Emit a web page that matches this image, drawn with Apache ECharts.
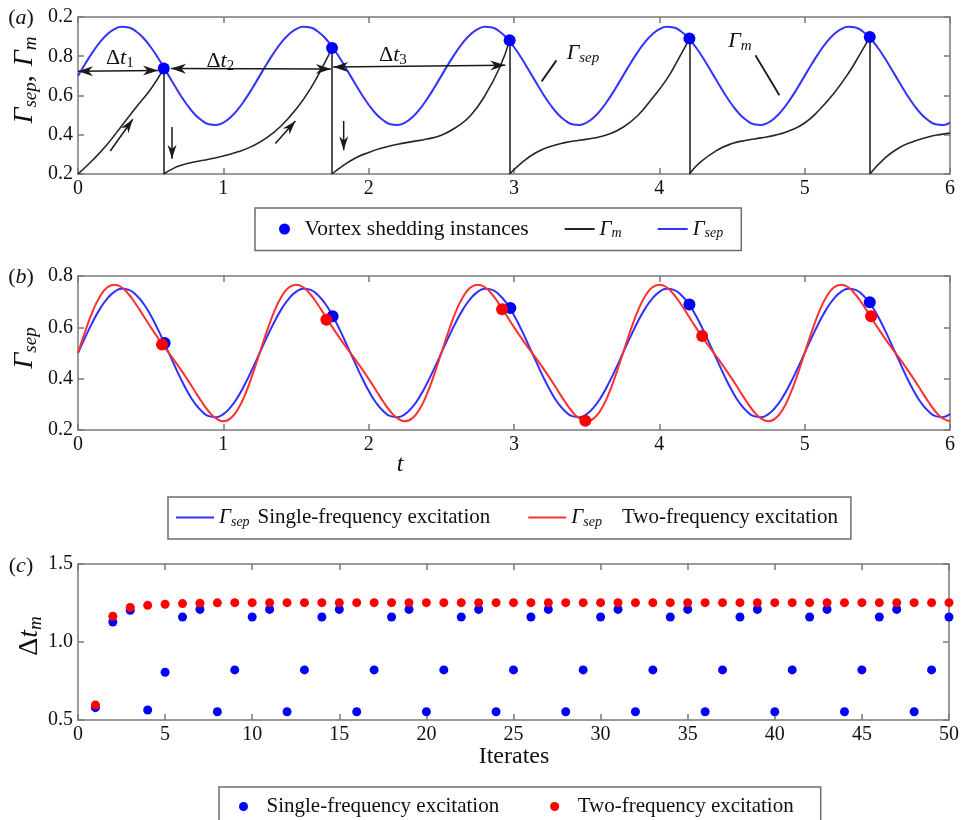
<!DOCTYPE html>
<html>
<head>
<meta charset="utf-8">
<script src="https://cdn.jsdelivr.net/npm/echarts@6/dist/echarts.min.js"></script>
<style>
  html, body { margin: 0; padding: 0; background: #ffffff; }
  #chart { width: 962px; height: 820px; }
</style>
</head>
<body>
<div id="chart"></div>
<script>
// ---------- data ----------
// time samples for the separation-circulation curves (t = 0 ... 6, step 0.05)
const tSamples = [];
for (let i = 0; i <= 120; i++) tSamples.push(+(i * 0.05).toFixed(2));

// panel (a): Γsep, single-frequency excitation
const sepA = [
  0.700,0.762,0.820,0.871,0.911,0.938,0.950,0.946,0.926,0.893,0.847,0.792,0.731,0.669,0.608,0.553,0.507,0.474,0.454,0.450,0.462,0.489,0.529,0.580,0.638,
  0.700,0.762,0.820,0.871,0.911,0.938,0.950,0.946,0.926,0.893,0.847,0.792,0.731,0.669,0.608,0.553,0.507,0.474,0.454,0.450,0.462,0.489,0.529,0.580,0.638,
  0.700,0.762,0.820,0.871,0.911,0.938,0.950,0.946,0.926,0.893,0.847,0.792,0.731,0.669,0.608,0.553,0.507,0.474,0.454,0.450,0.462,0.489,0.529,0.580,0.638,
  0.700,0.762,0.820,0.871,0.911,0.938,0.950,0.946,0.926,0.893,0.847,0.792,0.731,0.669,0.608,0.553,0.507,0.474,0.454,0.450,0.462,0.489,0.529,0.580,0.638,
  0.700,0.762,0.820,0.871,0.911,0.938,0.950,0.946,0.926,0.893,0.847,0.792,0.731,0.669,0.608,0.553,0.507,0.474,0.454,0.450,0.462
];

// panel (a): Γm, one rising branch per shedding cycle  [t, Γm]
const gammaM1 = [[0,0.200],[0.1,0.270],[0.2,0.350],[0.3,0.445],[0.4,0.540],[0.5,0.632],[0.59,0.737]];
const gammaM2 = [[0.59,0.200],[0.65,0.226],[0.7,0.242],[0.8,0.261],[0.9,0.275],[1.0,0.292],[1.1,0.313],[1.2,0.342],[1.3,0.385],[1.4,0.447],[1.5,0.530],[1.6,0.635],[1.7,0.770],[1.748,0.842]];
const gammaM3 = [[1.748,0.200],[1.8,0.230],[1.9,0.278],[2.0,0.310],[2.1,0.334],[2.2,0.352],[2.3,0.365],[2.4,0.378],[2.5,0.398],[2.6,0.437],[2.7,0.497],[2.8,0.600],[2.9,0.740],[2.97,0.881]];
const gammaM4 = [[2.97,0.200],[3.05,0.256],[3.15,0.308],[3.25,0.340],[3.35,0.360],[3.45,0.372],[3.55,0.383],[3.65,0.402],[3.75,0.438],[3.85,0.497],[3.95,0.585],[4.05,0.682],[4.13,0.784],[4.207,0.890]];
const gammaM5 = [[4.207,0.200],[4.28,0.259],[4.4,0.322],[4.5,0.355],[4.6,0.372],[4.7,0.384],[4.8,0.398],[4.9,0.422],[5.0,0.460],[5.1,0.526],[5.2,0.610],[5.3,0.712],[5.38,0.810],[5.448,0.898]];
const gammaM6 = [[5.448,0.200],[5.55,0.280],[5.65,0.334],[5.75,0.366],[5.85,0.389],[5.95,0.403],[6.0,0.409]];

// panel (a): vortex shedding instances
const shedTimesA = [0.59, 1.748, 2.97, 4.207, 5.448];
const shedValsA  = [0.737, 0.842, 0.881, 0.890, 0.898];

// panel (b): Γsep for single- and two-frequency excitation
const sepSingle = [
  0.500,0.562,0.620,0.671,0.711,0.738,0.750,0.746,0.726,0.693,0.647,0.592,0.531,0.469,0.408,0.353,0.307,0.274,0.254,0.250,0.262,0.289,0.329,0.380,0.438,
  0.500,0.562,0.620,0.671,0.711,0.738,0.750,0.746,0.726,0.693,0.647,0.592,0.531,0.469,0.408,0.353,0.307,0.274,0.254,0.250,0.262,0.289,0.329,0.380,0.438,
  0.500,0.562,0.620,0.671,0.711,0.738,0.750,0.746,0.726,0.693,0.647,0.592,0.531,0.469,0.408,0.353,0.307,0.274,0.254,0.250,0.262,0.289,0.329,0.380,0.438,
  0.500,0.562,0.620,0.671,0.711,0.738,0.750,0.746,0.726,0.693,0.647,0.592,0.531,0.469,0.408,0.353,0.307,0.274,0.254,0.250,0.262,0.289,0.329,0.380,0.438,
  0.500,0.562,0.620,0.671,0.711,0.738,0.750,0.746,0.726,0.693,0.647,0.592,0.531,0.469,0.408,0.353,0.307,0.274,0.254,0.250,0.262
];
const sepTwo = [
  0.500,0.585,0.661,0.719,0.755,0.766,0.756,0.728,0.689,0.645,0.601,0.559,0.519,0.481,0.441,0.399,0.355,0.311,0.272,0.245,0.234,0.246,0.281,0.339,0.415,
  0.500,0.585,0.661,0.719,0.755,0.766,0.756,0.728,0.689,0.645,0.601,0.559,0.519,0.481,0.441,0.399,0.355,0.311,0.272,0.245,0.234,0.246,0.281,0.339,0.415,
  0.500,0.585,0.661,0.719,0.755,0.766,0.756,0.728,0.689,0.645,0.601,0.559,0.519,0.481,0.441,0.399,0.355,0.311,0.272,0.245,0.234,0.246,0.281,0.339,0.415,
  0.500,0.585,0.661,0.719,0.755,0.766,0.756,0.728,0.689,0.645,0.601,0.559,0.519,0.481,0.441,0.399,0.355,0.311,0.272,0.245,0.234,0.246,0.281,0.339,0.415,
  0.500,0.585,0.661,0.719,0.755,0.766,0.756,0.728,0.689,0.645,0.601,0.559,0.519,0.481,0.441,0.399,0.355,0.311,0.272,0.245,0.234
];
const shedTimesSingle = [0.596, 1.752, 2.975, 4.207, 5.448];
const shedValsSingle  = [0.539, 0.643, 0.675, 0.689, 0.698];
const shedTimesTwo = [0.578, 1.709, 2.918, 3.491, 4.295, 5.457];
const shedValsTwo  = [0.533, 0.630, 0.670, 0.236, 0.566, 0.643];

// panel (c): shedding interval Δtm per iterate
const iterates = [];
for (let k = 1; k <= 50; k++) iterates.push(k);
const dtSingle = [
  0.579,1.128,1.203,0.564,0.806,1.160,1.209,0.553,0.821,1.160,
  1.209,0.553,0.821,1.160,1.209,0.553,0.821,1.160,1.209,0.553,
  0.821,1.160,1.209,0.553,0.821,1.160,1.209,0.553,0.821,1.160,
  1.209,0.553,0.821,1.160,1.209,0.553,0.821,1.160,1.209,0.553,
  0.821,1.160,1.209,0.553,0.821,1.160,1.209,0.553,0.821,1.160
];
const dtTwo = [
  0.596,1.165,1.221,1.235,1.242,1.246,1.249,1.251,1.252,1.252,
  1.252,1.252,1.252,1.252,1.252,1.252,1.252,1.252,1.252,1.252,
  1.252,1.252,1.252,1.252,1.252,1.252,1.252,1.252,1.252,1.252,
  1.252,1.252,1.252,1.252,1.252,1.252,1.252,1.252,1.252,1.252,
  1.252,1.252,1.252,1.252,1.252,1.252,1.252,1.252,1.252,1.252
];

// tick labels of the panel (a) ordinate, bottom to top
const yTickLabelsA = ['0.2', '0.4', '0.6', '0.8', '0.2'];

// ---------- helpers ----------
const SERIF = 'Liberation Serif';
const AXIS_GREY = '#7a7a7a';
const pairs = (xs, ys) => xs.map((x, i) => [x, ys[i]]);

function bottomAxis(grid, min, max, interval) {
  return {
    type: 'value', gridIndex: grid, position: 'bottom', min, max, interval,
    axisLine: { show: true, onZero: false, lineStyle: { color: AXIS_GREY, width: 1.5 } },
    axisTick: { show: true, inside: true, length: 6, lineStyle: { color: AXIS_GREY, width: 1.5 } },
    axisLabel: { show: true, margin: 5, color: '#111', fontFamily: SERIF, fontSize: 20 },
    splitLine: { show: false }
  };
}
function topAxis(grid, min, max, interval) {
  return {
    type: 'value', gridIndex: grid, position: 'top', min, max, interval,
    axisLine: { show: true, onZero: false, lineStyle: { color: AXIS_GREY, width: 1.5 } },
    axisTick: { show: true, inside: true, length: 6, lineStyle: { color: AXIS_GREY, width: 1.5 } },
    axisLabel: { show: false }, splitLine: { show: false }
  };
}
function leftAxis(grid, min, max, interval, fmt) {
  return {
    type: 'value', gridIndex: grid, position: 'left', min, max, interval,
    axisLine: { show: true, onZero: false, lineStyle: { color: AXIS_GREY, width: 1.5 } },
    axisTick: { show: true, inside: true, length: 6, lineStyle: { color: AXIS_GREY, width: 1.5 } },
    axisLabel: { show: true, margin: 5, color: '#111', fontFamily: SERIF, fontSize: 20, formatter: fmt },
    splitLine: { show: false }
  };
}
function rightAxis(grid, min, max, interval) {
  return {
    type: 'value', gridIndex: grid, position: 'right', min, max, interval,
    axisLine: { show: true, onZero: false, lineStyle: { color: AXIS_GREY, width: 1.5 } },
    axisTick: { show: true, inside: true, length: 6, lineStyle: { color: AXIS_GREY, width: 1.5 } },
    axisLabel: { show: false }, splitLine: { show: false }
  };
}

const legendRich = {
  g:  { fontFamily: SERIF, fontStyle: 'italic', fontSize: 21, color: '#111' },
  s:  { fontFamily: SERIF, fontStyle: 'italic', fontSize: 14, color: '#111', padding: [9, 0, 0, 0] },
  v:  { fontFamily: SERIF, fontSize: 21.5, color: '#111' },
  x:  { fontFamily: SERIF, fontSize: 21, color: '#111', padding: [0, 0, 0, 8] },
  x2: { fontFamily: SERIF, fontSize: 21, color: '#111', padding: [0, 0, 0, 20] },
  p:  { fontFamily: SERIF, fontSize: 21, color: '#111' }
};
const legendBase = {
  orient: 'horizontal', selectedMode: false,
  borderColor: '#6e6e6e', borderWidth: 1.5, backgroundColor: '#ffffff',
  textStyle: { fontFamily: SERIF, fontSize: 21, color: '#111', rich: legendRich }
};
const lineOnly = { opacity: 0, borderWidth: 0 };

const blackSeg = (data, extra) => Object.assign({
  name: 'Γm', type: 'line', xAxisIndex: 0, yAxisIndex: 0, data,
  smooth: 0.5, symbol: 'none',
  lineStyle: { color: '#262626', width: 1.6 }, itemStyle: { color: '#262626' }, z: 2
}, extra || {});

// ---------- chart ----------
const chart = echarts.init(document.getElementById('chart'), null, { renderer: 'canvas' });

const option = {
  animation: false,
  backgroundColor: '#ffffff',
  grid: [
    { left: 78, top: 17, width: 872, height: 157 },
    { left: 78, top: 276, width: 872, height: 154 },
    { left: 78, top: 564, width: 872, height: 156 }
  ],
  xAxis: [
    bottomAxis(0, 0, 6, 1), topAxis(0, 0, 6, 1),
    bottomAxis(1, 0, 6, 1), topAxis(1, 0, 6, 1),
    bottomAxis(2, 0, 50, 5), topAxis(2, 0, 50, 5)
  ],
  yAxis: [
    leftAxis(0, 0.2, 1.0, 0.2, v => yTickLabelsA[Math.round((v - 0.2) / 0.2)]), rightAxis(0, 0.2, 1.0, 0.2),
    leftAxis(1, 0.2, 0.8, 0.2, v => v.toFixed(1)), rightAxis(1, 0.2, 0.8, 0.2),
    leftAxis(2, 0.5, 1.5, 0.5, v => v.toFixed(1)), rightAxis(2, 0.5, 1.5, 0.5)
  ],
  legend: [
    Object.assign({}, legendBase, {
      left: 255, top: 208, itemWidth: 30, itemHeight: 11, itemGap: 35,
      padding: [10, 18, 10, 24],
      data: [
        { name: 'Vortex shedding instances', icon: 'circle' },
        { name: 'Γm', itemStyle: lineOnly },
        { name: 'Γsep', itemStyle: lineOnly }
      ],
      formatter: n => n === 'Vortex shedding instances' ? '{v|Vortex shedding instances}'
                    : n === 'Γm' ? '{g|Γ}{s|m}' : '{g|Γ}{s|sep}'
    }),
    Object.assign({}, legendBase, {
      left: 168, top: 497, itemWidth: 38, itemHeight: 12, itemGap: 37,
      padding: [10, 13, 10, 7],
      data: [
        { name: 'Γsep Single-frequency excitation', itemStyle: lineOnly },
        { name: 'Γsep Two-frequency excitation', itemStyle: lineOnly }
      ],
      formatter: n => n === 'Γsep Single-frequency excitation'
        ? '{g|Γ}{s|sep}{x|Single-frequency excitation}'
        : '{g|Γ}{s|sep}{x2|Two-frequency excitation}'
    }),
    Object.assign({}, legendBase, {
      left: 219, top: 787, itemWidth: 36, itemHeight: 9, itemGap: 51,
      padding: [9, 27, 40, 20],
      data: [
        { name: 'Single-frequency excitation', icon: 'circle' },
        { name: 'Two-frequency excitation', icon: 'circle' }
      ],
      formatter: n => '{p|' + n + '}'
    })
  ],
  series: [
    // ----- panel (a)
    blackSeg(gammaM1, {
      markLine: {
        silent: true, symbol: ['none', 'none'], label: { show: false },
        lineStyle: { color: '#262626', width: 1.6, type: 'solid' },
        emphasis: { disabled: true },
        data: shedTimesA.map((t, i) => [{ coord: [t, 0.2] }, { coord: [t, shedValsA[i]] }])
      }
    }),
    blackSeg(gammaM2), blackSeg(gammaM3), blackSeg(gammaM4), blackSeg(gammaM5), blackSeg(gammaM6),
    {
      name: 'Γsep', type: 'line', xAxisIndex: 0, yAxisIndex: 0,
      data: pairs(tSamples, sepA), smooth: true, symbol: 'none',
      lineStyle: { color: '#3333ff', width: 2 }, itemStyle: { color: '#3333ff' }, z: 3
    },
    {
      name: 'Vortex shedding instances', type: 'scatter', xAxisIndex: 0, yAxisIndex: 0,
      data: pairs(shedTimesA, shedValsA), symbol: 'circle', symbolSize: 12,
      itemStyle: { color: '#0000ff', opacity: 1 }, z: 5
    },
    // ----- panel (b)
    {
      name: 'Γsep Single-frequency excitation', type: 'line', xAxisIndex: 2, yAxisIndex: 2,
      data: pairs(tSamples, sepSingle), smooth: true, symbol: 'none',
      lineStyle: { color: '#3030ff', width: 2 }, itemStyle: { color: '#6f6fff' }, z: 3
    },
    {
      name: 'Γsep Two-frequency excitation', type: 'line', xAxisIndex: 2, yAxisIndex: 2,
      data: pairs(tSamples, sepTwo), smooth: true, symbol: 'none',
      lineStyle: { color: '#ff3030', width: 2 }, itemStyle: { color: '#ff7070' }, z: 3
    },
    {
      name: 'shedding (single)', type: 'scatter', xAxisIndex: 2, yAxisIndex: 2,
      data: pairs(shedTimesSingle, shedValsSingle), symbolSize: 12,
      itemStyle: { color: '#0000ff', opacity: 1 }, z: 5
    },
    {
      name: 'shedding (two)', type: 'scatter', xAxisIndex: 2, yAxisIndex: 2,
      data: pairs(shedTimesTwo, shedValsTwo), symbolSize: 12,
      itemStyle: { color: '#ff0000', opacity: 1 }, z: 6
    },
    // ----- panel (c)
    {
      name: 'Single-frequency excitation', type: 'scatter', xAxisIndex: 4, yAxisIndex: 4,
      data: pairs(iterates, dtSingle), symbolSize: 9,
      itemStyle: { color: '#0000ff', opacity: 1 }, z: 5
    },
    {
      name: 'Two-frequency excitation', type: 'scatter', xAxisIndex: 4, yAxisIndex: 4,
      data: pairs(iterates, dtTwo), symbolSize: 9,
      itemStyle: { color: '#ff0000', opacity: 1 }, z: 6
    }
  ]
};
chart.setOption(option);

// ---------- annotations of panel (a) and axis titles ----------
const INK = '#1a1a1a';
const txtRich = {
  g:  { fontFamily: SERIF, fontStyle: 'italic', fontSize: 22, fill: '#111' },
  gs: { fontFamily: SERIF, fontStyle: 'italic', fontSize: 15, fill: '#111', padding: [10, 0, 0, 0] },
  n:  { fontFamily: SERIF, fontSize: 22, fill: '#111' },
  ns: { fontFamily: SERIF, fontSize: 15, fill: '#111', padding: [10, 0, 0, 0] },
  // larger set for the ordinate titles
  G:  { fontFamily: SERIF, fontStyle: 'italic', fontSize: 28, fill: '#111' },
  GS: { fontFamily: SERIF, fontStyle: 'italic', fontSize: 19, fill: '#111', padding: [12, 0, 0, 0] },
  N:  { fontFamily: SERIF, fontSize: 28, fill: '#111' },
  C:  { fontFamily: SERIF, fontSize: 28, fill: '#111', padding: [0, 9, 0, 0] },
  it: { fontFamily: SERIF, fontSize: 24, fill: '#111' },
  ti: { fontFamily: SERIF, fontStyle: 'italic', fontSize: 24, fill: '#111' }
};
const pA = p => chart.convertToPixel({ xAxisIndex: 0, yAxisIndex: 0 }, p);

// double arrows Δt1..Δt3, growth arrows, drop arrows, leader lines
const intervalArrows = [[[0, 0.723], [0.55, 0.728]], [[0.64, 0.737], [1.74, 0.735]], [[1.756, 0.745], [2.94, 0.754]]];
const riseArrows = [[[0.222, 0.317], [0.377, 0.479]], [[1.358, 0.355], [1.496, 0.470]]];
const dropArrows = [[[0.647, 0.440], [0.647, 0.278]], [[1.828, 0.470], [1.828, 0.321]]];
const leaderLines = [[[3.19, 0.672], [3.292, 0.779]], [[4.661, 0.805], [4.826, 0.601]]];
const annotationTexts = [
  { at: [0.288, 0.792], text: '{n|Δ}{g|t}{ns|1}' },
  { at: [0.979, 0.774], text: '{n|Δ}{g|t}{ns|2}' },
  { at: [2.167, 0.807], text: '{n|Δ}{g|t}{ns|3}' },
  { at: [3.474, 0.815], text: '{g|Γ}{gs|sep}' },
  { at: [4.555, 0.876], text: '{g|Γ}{gs|m}' }
];

function head(from, tip, len, half) {
  const dx = tip[0] - from[0], dy = tip[1] - from[1];
  const L = Math.hypot(dx, dy), ux = dx / L, uy = dy / L, nx = -uy, ny = ux;
  const bx = tip[0] - ux * len, by = tip[1] - uy * len;
  const mx = tip[0] - ux * len * 0.7, my = tip[1] - uy * len * 0.7;
  return { type: 'polygon', z: 100, shape: { points: [[tip[0], tip[1]], [bx + nx * half, by + ny * half], [mx, my], [bx - nx * half, by - ny * half]] }, style: { fill: INK } };
}
function seg(a, b, w) {
  return { type: 'line', z: 100, shape: { x1: a[0], y1: a[1], x2: b[0], y2: b[1] }, style: { stroke: INK, lineWidth: w || 1.5 } };
}

const graphics = [];
intervalArrows.forEach(([a, b]) => {
  const p = pA(a), q = pA(b);
  graphics.push(seg(p, q), head(q, p, 15, 5), head(p, q, 15, 5));
});
riseArrows.concat(dropArrows).forEach(([a, b]) => {
  const p = pA(a), q = pA(b);
  graphics.push(seg(p, q), head(p, q, 14, 4.5));
});
leaderLines.forEach(([a, b]) => graphics.push(seg(pA(a), pA(b), 1.8)));
annotationTexts.forEach(o => {
  const p = pA(o.at);
  graphics.push({ type: 'text', z: 100, x: p[0], y: p[1], style: { text: o.text, rich: txtRich, align: 'center', verticalAlign: 'middle', fill: '#111' } });
});

// panel tags, axis titles
const titleTexts = [
  { x: 21, y: 18, text: '{n|(}{g|a}{n|)}', rot: 0 },
  { x: 21, y: 277, text: '{n|(}{g|b}{n|)}', rot: 0 },
  { x: 21, y: 566, text: '{n|(}{g|c}{n|)}', rot: 0 },
  { x: 25, y: 80, text: '{G|Γ}{GS|sep}{C|,}{G|Γ}{GS|m}', rot: Math.PI / 2 },
  { x: 25, y: 348, text: '{G|Γ}{GS|sep}', rot: Math.PI / 2 },
  { x: 30, y: 636, text: '{N|Δ}{G|t}{GS|m}', rot: Math.PI / 2 },
  { x: 400, y: 465, text: '{ti|t}', rot: 0 },
  { x: 514, y: 757, text: '{it|Iterates}', rot: 0 }
];
titleTexts.forEach(o => {
  graphics.push({ type: 'text', z: 100, x: o.x, y: o.y, rotation: o.rot,
    style: { text: o.text, rich: txtRich, align: 'center', verticalAlign: 'middle', fill: '#111' } });
});

chart.setOption({ graphic: graphics });
</script>
</body>
</html>
